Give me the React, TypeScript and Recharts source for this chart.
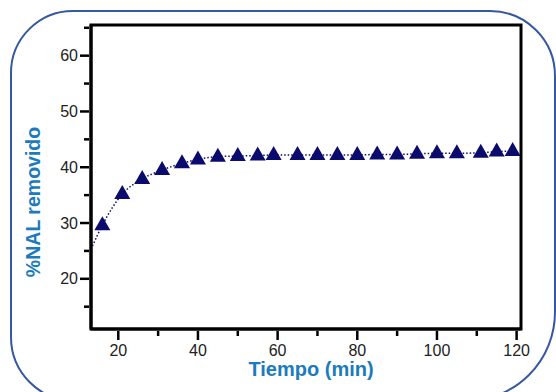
import { ComposedChart, Label, Line, ReferenceArea, Scatter, XAxis, YAxis } from 'recharts';

// measured points (tiempo en min, % NAL removido)
const tiempo = [16, 21, 26, 31, 36, 40, 45, 50, 55, 59, 65, 70, 75, 80, 85, 90, 95, 100, 105, 111, 115, 119];
const removido = [
  29.6, 35.2, 37.9, 39.5, 40.7, 41.4, 41.9, 42.0, 42.1, 42.2, 42.2, 42.2, 42.2, 42.2, 42.3, 42.3, 42.4, 42.5, 42.5,
  42.6, 42.8, 42.9,
];
// dotted trend starts at the left frame edge
const trendStart = { t: 13.15, v: 25.3 };

const xDomain = [13.15, 121.1];
const yDomain = [11, 65.5];
const xTicks = [20, 30, 40, 50, 60, 70, 80, 90, 100, 110, 120];
const yTicks = [15, 20, 25, 30, 35, 40, 45, 50, 55, 60, 65];

const NAVY = '#0b0b6e';
const BLUE = '#1b7bbd';
const FONT = '"Liberation Sans", Arial, sans-serif';

const points = tiempo.map((t, i) => ({ t, v: removido[i] }));
const trend = [trendStart, ...points];

const XTick = ({ x, y, payload }: any) => {
  const major = payload.value % 20 === 0;
  return (
    <g>
      <line x1={x} x2={x} y1={y} y2={y + (major ? 9 : 5)} stroke="#000" strokeWidth={2.5} />
      {major && (
        <text x={x} y={y + 14} dy="0.71em" textAnchor="middle" fontSize={16} fill="#222" fontFamily={FONT}>
          {payload.value}
        </text>
      )}
    </g>
  );
};

const YTick = ({ x, y, payload }: any) => {
  const major = payload.value % 10 === 0;
  return (
    <g>
      <line x1={x} x2={x - (major ? 9 : 5)} y1={y} y2={y} stroke="#000" strokeWidth={2.5} />
      {major && (
        <text x={x - 11} y={y} dy="0.355em" textAnchor="end" fontSize={16} fill="#222" fontFamily={FONT}>
          {payload.value}
        </text>
      )}
    </g>
  );
};

// filled triangle marker, about 16px wide, centred on the point
const Triangle = (props: any) => {
  const { cx, cy } = props;
  if (cx == null || cy == null) return null;
  return <polygon points={`${cx},${cy - 9} ${cx + 8},${cy + 5} ${cx - 8},${cy + 5}`} fill={NAVY} />;
};

const YLabel = ({ viewBox }: any) => {
  const cx = viewBox.x + 12;
  const cy = viewBox.y + viewBox.height / 2 + 25;
  return (
    <text
      x={cx}
      y={cy}
      transform={`rotate(-90, ${cx}, ${cy})`}
      textAnchor="middle"
      dominantBaseline="central"
      fontSize={19.5}
      fontWeight="bold"
      fill={BLUE}
      fontFamily={FONT}
    >
      %NAL removido
    </text>
  );
};

const XLabel = ({ viewBox }: any) => (
  <text
    x={viewBox.x + viewBox.width / 2 + 5}
    y={viewBox.y + 47}
    textAnchor="middle"
    fontSize={20}
    fontWeight="bold"
    fill={BLUE}
    fontFamily={FONT}
  >
    Tiempo (min)
  </text>
);

export default function App() {
  return (
    <div style={{ position: 'fixed', left: 0, top: 0, width: 556, height: 392, overflow: 'hidden', background: '#fff' }}>
      <div
        style={{
          position: 'absolute',
          left: 10,
          top: 10,
          width: 546,
          height: 392,
          boxSizing: 'border-box',
          border: '2.5px solid #3558a0',
          borderRadius: '63px 66px 90px 65px',
        }}
      />
      <div style={{ position: 'absolute', left: 0, top: 0 }}>
        <ComposedChart width={556} height={392} margin={{ top: 25, right: 35, bottom: 11, left: 21 }}>
          <XAxis
            type="number"
            dataKey="t"
            domain={xDomain}
            ticks={xTicks}
            allowDataOverflow
            height={52}
            tickSize={0}
            tickLine={false}
            tick={<XTick />}
            axisLine={{ stroke: '#000', strokeWidth: 3 }}
            interval={0}
          >
            <Label content={<XLabel />} />
          </XAxis>
          <YAxis
            type="number"
            dataKey="v"
            domain={yDomain}
            ticks={yTicks}
            allowDataOverflow
            width={70}
            tickSize={0}
            tickLine={false}
            tick={<YTick />}
            axisLine={{ stroke: '#000', strokeWidth: 3 }}
            interval={0}
          >
            <Label content={<YLabel />} />
          </YAxis>
          <ReferenceArea
            x1={xDomain[0]}
            x2={xDomain[1]}
            y1={yDomain[0]}
            y2={yDomain[1]}
            fill="none"
            stroke="#000"
            strokeWidth={3}
            ifOverflow="visible"
          />
          <Line
            data={trend}
            dataKey="v"
            type="monotone"
            stroke={NAVY}
            strokeWidth={1.5}
            strokeDasharray="1.5 2"
            dot={false}
            activeDot={false}
            isAnimationActive={false}
          />
          <Scatter data={points} dataKey="v" shape={Triangle} isAnimationActive={false} />
        </ComposedChart>
      </div>
    </div>
  );
}
